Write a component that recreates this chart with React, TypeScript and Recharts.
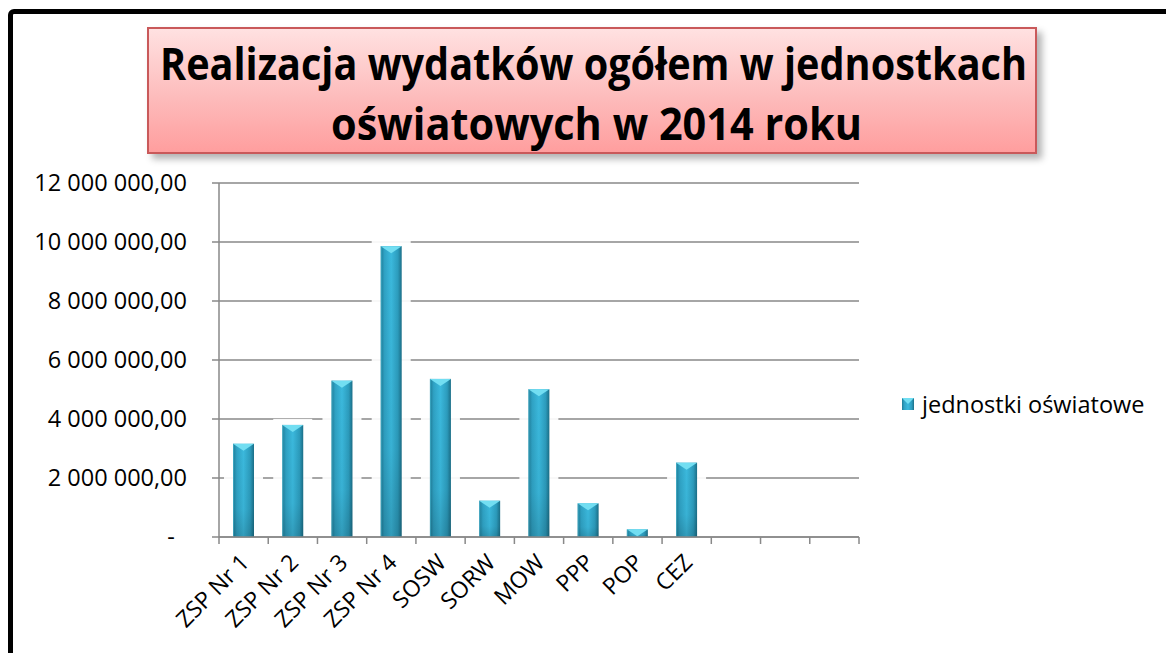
import React from 'react'
import { BarChart, Bar, XAxis, YAxis, CartesianGrid, Legend } from 'recharts'

const categories = ['ZSP Nr 1', 'ZSP Nr 2', 'ZSP Nr 3', 'ZSP Nr 4', 'SOSW', 'SORW', 'MOW', 'PPP', 'POP', 'CEZ', '', '', '']
const values = [3160000, 3800000, 5300000, 9860000, 5360000, 1230000, 5010000, 1140000, 260000, 2520000, null, null, null]
const yTicks = [0, 2000000, 4000000, 6000000, 8000000, 10000000, 12000000]
const seriesName = 'jednostki oświatowe'
const titleLines = ['Realizacja wydatków ogółem w jednostkach', 'oświatowych w 2014 roku']

const data = categories.map((name, i) => ({ name, value: values[i] }))

const FONT = '"Open Sans", "Noto Sans", sans-serif'
const GRID = '#898989'
const W = 1166
const H = 653
const PLOT_LEFT = 219
const PLOT_RIGHT = 859
const BAND = (PLOT_RIGHT - PLOT_LEFT) / categories.length

const fmt = (v: number) => {
  if (v === 0) return '-\u00a0\u00a0'
  return String(Math.round(v)).replace(/\B(?=(\d{3})+(?!\d))/g, ' ') + ',00'
}

function BevelBar(props: any) {
  const { x, y, width, height } = props
  if (!height || height <= 0) return null
  const cap = Math.min(7, height)
  return (
    <g>
      <rect x={x - 9} y={y - 6} width={width + 18} height={height + 5} fill="#fff" opacity={0.92} />
      <rect x={x} y={y} width={width} height={height} fill="url(#barGrad)" />
      <rect x={x} y={y} width={width} height={height} fill="url(#barShade)" />
      <polygon points={`${x},${y} ${x + width},${y} ${x + width / 2},${y + cap}`} fill="#72def2" />
      <line x1={x + 0.5} x2={x + 0.5} y1={y} y2={y + height} stroke="#56c8e2" strokeOpacity={0.5} />
    </g>
  )
}

function CatTick(props: any) {
  const { x, y, payload, index } = props
  const half = payload && payload.offset ? payload.offset : BAND / 2
  return (
    <g>
      <line x1={x - half} x2={x - half} y1={y} y2={y + 7} stroke={GRID} strokeWidth={1.5} />
      {index === categories.length - 1 && (
        <line x1={x + half} x2={x + half} y1={y} y2={y + 7} stroke={GRID} strokeWidth={1.5} />
      )}
      {payload.value ? (
        <text
          transform={`translate(${x + 7},${y + 27}) rotate(-45)`}
          textAnchor="end"
          fontSize={23}
          fontFamily={FONT}
          fill="#000"
        >
          {payload.value}
        </text>
      ) : null}
    </g>
  )
}

function LegendBox() {
  return (
    <div style={{ display: 'flex', alignItems: 'center', width: 260, height: 30, fontFamily: FONT, fontSize: 23.5, color: '#000' }}>
      <svg width={12} height={12} style={{ marginRight: 8, flex: 'none' }}>
        <rect x={0} y={0} width={12} height={12} fill="url(#barGrad)" />
        <polygon points="0,0 12,0 6,6" fill="#72def2" />
      </svg>
      <span style={{ whiteSpace: 'nowrap' }}>{seriesName}</span>
    </div>
  )
}

export default function App() {
  return (
    <div style={{ position: 'fixed', left: 0, top: 0, width: W, height: H, overflow: 'hidden', background: '#fff' }}>
      <svg width={0} height={0} style={{ position: 'absolute' }}>
        <defs>
          <linearGradient id="barGrad" x1="0" y1="0" x2="1" y2="0">
            <stop offset="0%" stopColor="#1f7d98" />
            <stop offset="18%" stopColor="#2fa2c4" />
            <stop offset="50%" stopColor="#3bb9dd" />
            <stop offset="82%" stopColor="#2c9cbd" />
            <stop offset="100%" stopColor="#1b6f88" />
          </linearGradient>
          <linearGradient id="barShade" x1="0" y1="0" x2="0" y2="1">
            <stop offset="0%" stopColor="#000" stopOpacity={0} />
            <stop offset="70%" stopColor="#000" stopOpacity={0.04} />
            <stop offset="100%" stopColor="#000" stopOpacity={0.16} />
          </linearGradient>
        </defs>
      </svg>

      <div style={{ position: 'absolute', left: 8, top: 9, width: 1300, height: 800, border: '5px solid #000', borderRadius: 6, boxSizing: 'border-box' }} />

      <div style={{ position: 'absolute', left: 0, top: 0 }}>
        <BarChart width={W} height={H} data={data} margin={{ top: 183, right: 47, bottom: 16, left: 0 }}>
          <CartesianGrid vertical={false} stroke={GRID} strokeWidth={1.5} />
          <XAxis
            dataKey="name"
            interval={0}
            height={100}
            tickLine={false}
            tickSize={0}
            tickMargin={0}
            axisLine={{ stroke: GRID, strokeWidth: 1.5 }}
            tick={<CatTick />}
          />
          <YAxis
            width={219}
            domain={[0, 12000000]}
            ticks={yTicks}
            interval={0}
            tickFormatter={fmt}
            tickSize={7}
            tickMargin={25}
            axisLine={{ stroke: GRID, strokeWidth: 1.5 }}
            tickLine={{ stroke: GRID, strokeWidth: 1.5 }}
            tick={{ fill: '#000', fontSize: 23.5, fontFamily: FONT }}
          />
          <Legend
            layout="vertical"
            align="right"
            verticalAlign="middle"
            content={<LegendBox />}
            wrapperStyle={{ left: 902, top: 389, width: 260 }}
          />
          <Bar dataKey="value" name={seriesName} barSize={21} shape={<BevelBar />} isAnimationActive={false} />
        </BarChart>
      </div>

      <div
        style={{
          position: 'absolute',
          left: 147,
          top: 27,
          width: 890,
          height: 127,
          boxSizing: 'border-box',
          border: '2px solid #c9595a',
          background: 'linear-gradient(#ffe1e1, #fdbcbc 55%, #ff9e9e)',
          boxShadow: '5px 5px 7px rgba(0,0,0,0.3)',
        }}
      >
        <svg width={886} height={123} style={{ display: 'block' }}>
          <text
            transform="translate(444.5,51) scale(1,1.1)"
            textAnchor="middle"
            fontFamily={FONT}
            fontWeight={700}
            fontSize={40}
            fill="#000"
            textLength={867}
            lengthAdjust="spacingAndGlyphs"
          >
            {titleLines[0]}
          </text>
          <text
            transform="translate(447.5,111) scale(1,1.1)"
            textAnchor="middle"
            fontFamily={FONT}
            fontWeight={700}
            fontSize={40}
            fill="#000"
            textLength={531}
            lengthAdjust="spacingAndGlyphs"
          >
            {titleLines[1]}
          </text>
        </svg>
      </div>
    </div>
  )
}
